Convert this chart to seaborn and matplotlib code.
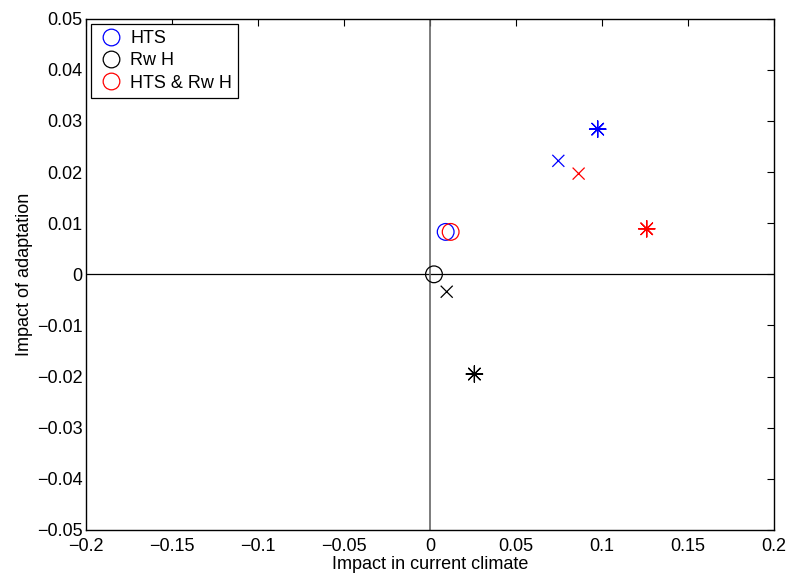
import matplotlib
matplotlib.use("Agg")
import matplotlib.pyplot as plt
from matplotlib.lines import Line2D
from matplotlib.ticker import FixedLocator, FuncFormatter
import numpy as np
import pandas as pd
import seaborn as sns

# Impact of each strategy: current climate (x) vs. adaptation (y)
groups = ["HTS", "Rw H", "HTS & Rw H"]
scenarios = ["circle", "cross", "asterisk"]

circle_x = [0.0091, 0.0023, 0.0120]
circle_y = [0.0083, 0.0000, 0.0083]
cross_x = [0.0746, 0.0097, 0.0864]
cross_y = [0.0222, -0.0034, 0.0197]
asterisk_x = [0.0975, 0.0258, 0.1260]
asterisk_y = [0.0284, -0.0195, 0.0089]

colors = {"HTS": "#0000ff", "Rw H": "#000000", "HTS & Rw H": "#ff0000"}

x_ticks = [-0.2, -0.15, -0.1, -0.05, 0, 0.05, 0.1, 0.15, 0.2]
y_ticks = [-0.05, -0.04, -0.03, -0.02, -0.01, 0, 0.01, 0.02, 0.03, 0.04, 0.05]

df = pd.DataFrame({
    "x": circle_x + cross_x + asterisk_x,
    "y": circle_y + cross_y + asterisk_y,
    "group": groups * 3,
    "scenario": [s for s in scenarios for _ in groups],
})

sns.set_style("white")
plt.rcParams["font.family"] = ["Liberation Sans", "DejaVu Sans"]
plt.rcParams["axes.unicode_minus"] = True
plt.rcParams["text.color"] = "black"
plt.rcParams["axes.labelcolor"] = "black"

FS = 13

fig = plt.figure(figsize=(7.92, 5.75), dpi=100)
ax = fig.add_axes([0.1086, 0.0783, 0.8687, 0.8892])

marker_specs = {"circle": ("o", 145), "cross": ("x", 75), "asterisk": ((8, 2, 0), 140)}
for scen in scenarios:
    sub = df[df["scenario"] == scen]
    mk, sz = marker_specs[scen]
    before = len(ax.collections)
    sns.scatterplot(data=sub, x="x", y="y", hue="group", palette=colors,
                    hue_order=groups, marker=mk, s=sz, linewidth=0.9,
                    legend=False, ax=ax, zorder=3)
    for coll in ax.collections[before:]:
        fc = coll.get_facecolors()
        coll.set_edgecolors(fc)
        coll.set_linewidths(0.9)
        if scen == "circle":
            coll.set_facecolors("none")

ax.axhline(0, color="black", lw=0.9, zorder=1)
ax.axvline(0, color="0.4", lw=1.2, zorder=1)

ax.set_xlim(-0.2, 0.2)
ax.set_ylim(-0.05, 0.05)


def fmt(v, _pos):
    if abs(v) < 1e-12:
        return "0"
    s = f"{v:.2f}".rstrip("0")
    return s.replace("-", "\u2212")


ax.xaxis.set_major_locator(FixedLocator(x_ticks))
ax.yaxis.set_major_locator(FixedLocator(y_ticks))
ax.xaxis.set_major_formatter(FuncFormatter(fmt))
ax.yaxis.set_major_formatter(FuncFormatter(fmt))
ax.tick_params(direction="in", length=5, width=0.8, color="black",
               top=True, right=True, labelsize=FS, colors="black")
ax.tick_params(axis="x", pad=5.5)
ax.tick_params(axis="y", pad=2.5)
for sp in ax.spines.values():
    sp.set_color("black")
    sp.set_linewidth(1.0)

ax.set_xlabel("Impact in current climate", fontsize=FS, labelpad=1)
ax.set_ylabel("Impact of adaptation", fontsize=FS, labelpad=3)

handles = [Line2D([], [], marker="o", ls="none", mfc="none", mec=colors[g],
                  ms=12, mew=0.9, label=g) for g in groups]
leg = ax.legend(handles=handles, loc="upper left", fontsize=FS,
                frameon=True, fancybox=False, framealpha=1, edgecolor="black",
                borderaxespad=0.3, handletextpad=0.3, handlelength=1.5,
                borderpad=0.35, labelspacing=0.28)
leg.get_frame().set_linewidth(0.9)

fig.savefig("out.png", dpi=100)
